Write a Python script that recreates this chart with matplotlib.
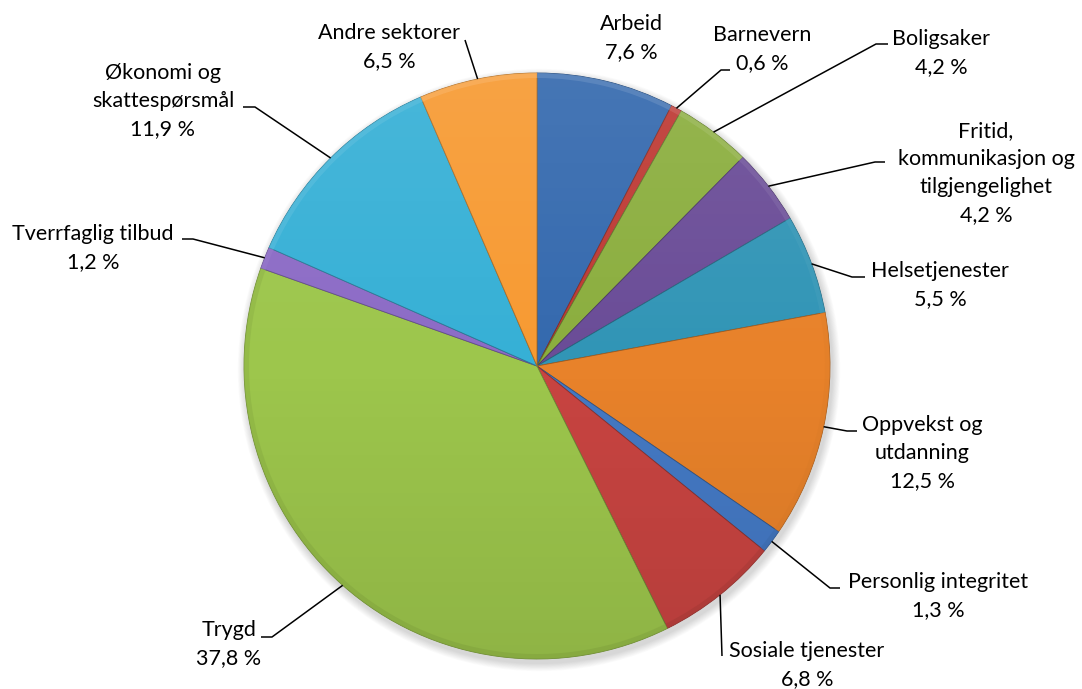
import numpy as np
import matplotlib
matplotlib.use("Agg")
import matplotlib.pyplot as plt
from matplotlib.patches import Wedge, Circle
from matplotlib.colors import to_rgb

# ---- data ----
categories = ["Arbeid", "Barnevern", "Boligsaker",
              "Fritid,\nkommunikasjon og\ntilgjengelighet",
              "Helsetjenester", "Oppvekst og\nutdanning", "Personlig integritet",
              "Sosiale tjenester", "Trygd", "Tverrfaglig tilbud",
              "Økonomi og\nskattespørsmål", "Andre sektorer"]
values = [7.6, 0.6, 4.2, 4.2, 5.5, 12.5, 1.3, 6.8, 37.8, 1.2, 11.9, 6.5]
value_labels = ["7,6 %", "0,6 %", "4,2 %", "4,2 %", "5,5 %", "12,5 %", "1,3 %",
                "6,8 %", "37,8 %", "1,2 %", "11,9 %", "6,5 %"]

colors = ["#3469AE", "#BE3A34", "#8BAE3E", "#6A4C97", "#3195B6", "#E8822A",
          "#4479C4", "#C84441", "#9DC64C", "#8C6BC6", "#36B0D6", "#F79A32"]

# ---- layout (pixel coords, y measured from top) ----
W, H = 1082, 689
CX, CY, R = 537, 366, 293
label_pos = [(631, 38), (762, 49), (941, 53), (986, 173), (940, 285),
             (922, 453), (938, 596), (807, 665), (229, 644), (93, 248),
             (163, 101), (389, 47)]
leaders = [None,
           [(730, 70), (721, 70)],
           [(888, 44), (876, 44)],
           [(885, 162), (875, 162)],
           [(865, 277), (852, 277)],
           [(857, 431), (847, 431)],
           [(840, 588), (830, 588)],
           [(722, 656)],
           [(261, 637), (272, 637)],
           [(182, 239), (193, 239)],
           [(243, 107), (255, 107)],
           [(465, 40)]]

def Y(y):
    return H - y

fig = plt.figure(figsize=(W / 100, H / 100), dpi=100)
ax = fig.add_axes([0, 0, 1, 1])
ax.set_xlim(0, W)
ax.set_ylim(0, H)
ax.set_aspect("equal")
ax.axis("off")

# soft shadow
for i in range(10):
    ax.add_patch(Circle((CX + 2, Y(CY) - 4), R + 1 + i * 0.8, facecolor="black",
                        alpha=0.016, edgecolor="none", zorder=1))

def mix(c, t, f):
    c = np.array(to_rgb(c)); t = np.array(to_rgb(t))
    return tuple(c * (1 - f) + t * f)

total = sum(values)
start = 90.0
angles = []
for v, c in zip(values, colors):
    sweep = v / total * 360
    a1, a0 = start, start - sweep
    ax.add_patch(Wedge((CX, Y(CY)), R, a0, a1, facecolor=c,
                       edgecolor=mix(c, "black", 0.3), linewidth=0.6, zorder=2))
    mid = np.deg2rad((a0 + a1) / 2)
    s = np.sin(mid)
    rim = mix(c, "white", 0.2 * s) if s > 0 else mix(c, "black", -0.12 * s)
    ax.add_patch(Wedge((CX, Y(CY)), R, a0, a1, width=5, facecolor=rim,
                       edgecolor="none", alpha=0.6, zorder=3))
    angles.append((a0 + a1) / 2)
    start = a0

# vertical shading over the pie
grad = np.zeros((200, 2, 4))
t = np.linspace(0, 1, 200)[:, None]
grad[..., :3] = np.where(t[..., None] < 0.5, 1.0, 0.0)
grad[..., 3] = np.abs(t - 0.5) * 0.18
im = ax.imshow(grad, extent=(CX - R, CX + R, Y(CY) - R, Y(CY) + R),
               origin="upper", aspect="auto", zorder=4, interpolation="bilinear")
im.set_clip_path(Circle((CX, Y(CY)), R, transform=ax.transData))

font = dict(family=["Lato", "DejaVu Sans"], size=15.5, color="black")
for i, (name, vl) in enumerate(zip(categories, value_labels)):
    x, y = label_pos[i]
    ax.text(x, Y(y), name + "\n" + vl, ha="center", va="center",
            linespacing=1.5, zorder=6, **font)
    if leaders[i] is not None:
        ang = np.deg2rad(angles[i])
        ex, ey = CX + R * np.cos(ang), Y(CY) + R * np.sin(ang)
        pts = [(px, Y(py)) for px, py in leaders[i]] + [(ex, ey)]
        ax.plot([p[0] for p in pts], [p[1] for p in pts], color="black",
                linewidth=1.1, zorder=5, solid_capstyle="butt")

fig.savefig("out.png", dpi=100, facecolor="white")
